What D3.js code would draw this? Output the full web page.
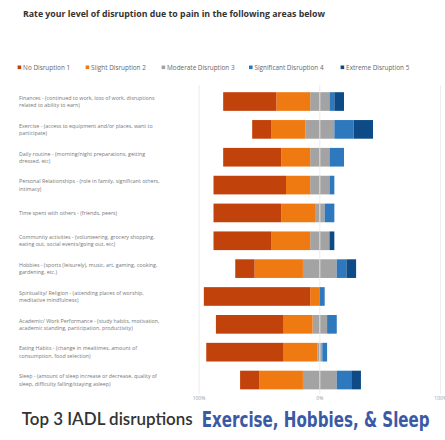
<!DOCTYPE html>
<html>
<head>
<meta charset="utf-8">
<script src="https://cdn.jsdelivr.net/npm/d3@7/dist/d3.min.js"></script>
<style>
html, body { margin: 0; padding: 0; background: #fff; }
svg { display: block; }
</style>
</head>
<body>
<script>
// ---- DATA ----
const categories = ["Finances","Exercise","Daily routine","Personal Relationships","Time spent with others",
  "Community activities","Hobbies","Spirituality/ Religion","Academic/ Work Performance","Eating Habits","Sleep"];
const labelLines = [
  ["Finances - (continued to work, loss of work, disruptions", "related to ability to earn)"],
  ["Exercise - (access to equipment and/or places, want to", "participate)"],
  ["Daily routine - (morning/night preparations, getting", "dressed, etc)"],
  ["Personal Relationships - (role in family, significant others,", "intimacy)"],
  ["Time spent with others - (friends, peers)"],
  ["Community activities - (volunteering, grocery shopping,", "eating out, social events/going out, etc)"],
  ["Hobbies - (sports (leisurely), music, art, gaming, cooking,", "gardening, etc.)"],
  ["Spirituality/ Religion - (attending places of worship,", "meditative mindfulness)"],
  ["Academic/ Work Performance - (study habits, motivation,", "academic standing, participation, productivity)"],
  ["Eating Habits - (change in mealtimes, amount of", "consumption, food selection)"],
  ["Sleep - (amount of sleep increase or decrease, quality of", "sleep, difficulty falling/staying asleep)"]
];
const seriesNames = ["No Disruption 1","Slight Disruption 2","Moderate Disruption 3","Significant Disruption 4","Extreme Disruption 5"];
const noDisruption = [44,16,48,60,56,48,16,88,56,64,16];
const slightDisruption = [28,28,24,20,28,32,40,8,24,28,36];
const moderateDisruption = [16,24,16,16,8,16,28,0,12,4,28];
const significantDisruption = [4,16,12,4,8,0,8,4,8,4,12];
const extremeDisruption = [8,16,0,0,0,4,8,0,0,0,8];
const tickValues = [-100, 0, 100];
const tickLabels = ["100%", "0%", "100%"];
const colors = ["#c2420c", "#f07a12", "#a3a3a3", "#2e78bd", "#0e4b86"];

// ---- CHART ----
const W = 445, H = 440;
const svg = d3.select("body").append("svg").attr("width", W).attr("height", H);

const x = d3.scaleLinear().domain([-100, 100]).range([199, 440.7]);
const y = d3.scaleBand().domain(categories).range([87.6, 393.95]).paddingInner(0.33).paddingOuter(0.165);

// title
svg.append("text").attr("x", 23).attr("y", 16.5)
  .attr("font-family", "Open Sans").attr("font-weight", "bold").attr("font-size", 8.6)
  .attr("fill", "#333").attr("textLength", 302).attr("lengthAdjust", "spacingAndGlyphs")
  .text("Rate your level of disruption due to pain in the following areas below");

// legend
const legendX = [19.3, 87.3, 163.3, 250.7, 342.3];
const lg = svg.append("g");
seriesNames.forEach((n, i) => {
  lg.append("rect").attr("x", legendX[i] - 1.7).attr("y", 65.5).attr("width", 3.6).attr("height", 3.6).attr("fill", colors[i]);
  lg.append("text").attr("x", legendX[i] + 3.8).attr("y", 69.6)
    .attr("font-family", "Open Sans").attr("font-size", 6.4).attr("fill", "#666").text(n);
});

// gridlines
svg.append("g").selectAll("line").data(tickValues).join("line")
  .attr("x1", d => x(d)).attr("x2", d => x(d))
  .attr("y1", 85).attr("y2", 394)
  .attr("stroke", "#ececec").attr("stroke-width", 1);

// build segments
const segs = [];
categories.forEach((c, i) => {
  const mod = moderateDisruption[i];
  let right = -mod / 2;
  segs.push({c, k: 2, x0: right, x1: 0});
  segs.push({c, k: 1, x0: right - slightDisruption[i], x1: right});
  right -= slightDisruption[i];
  segs.push({c, k: 0, x0: right - noDisruption[i], x1: right});
  let left = mod / 2;
  segs.push({c, k: 2, x0: 0, x1: left});
  segs.push({c, k: 3, x0: left, x1: left + significantDisruption[i]});
  left += significantDisruption[i];
  segs.push({c, k: 4, x0: left, x1: left + extremeDisruption[i]});
});

svg.append("g").selectAll("rect").data(segs.filter(s => s.x1 > s.x0)).join("rect")
  .attr("x", d => x(d.x0)).attr("width", d => x(d.x1) - x(d.x0))
  .attr("y", d => y(d.c)).attr("height", y.bandwidth())
  .attr("fill", d => colors[d.k]);

// white split in moderate
svg.append("g").selectAll("line").data(categories.filter((c, i) => moderateDisruption[i] > 0)).join("line")
  .attr("x1", x(0)).attr("x2", x(0))
  .attr("y1", d => y(d)).attr("y2", d => y(d) + y.bandwidth())
  .attr("stroke", "#fff").attr("stroke-opacity", 0.8).attr("stroke-width", 0.8);

// category labels
const lab = svg.append("g");
categories.forEach((c, i) => {
  const lines = labelLines[i];
  const cy = y(c) + y.bandwidth() / 2;
  const lh = 7.4;
  const start = cy - (lines.length - 1) * lh / 2 + 2;
  lines.forEach((t, j) => {
    lab.append("text").attr("x", 19).attr("y", start + j * lh)
      .attr("font-family", "Open Sans").attr("font-size", 5.3).attr("fill", "#777").text(t);
  });
});

// axis tick labels
svg.append("g").selectAll("text").data(tickValues).join("text")
  .attr("x", d => x(d)).attr("y", 400).attr("text-anchor", "middle")
  .attr("font-family", "Open Sans").attr("font-size", 5).attr("fill", "#999")
  .text((d, i) => tickLabels[i]);

// bottom caption
svg.append("text").attr("x", 21.7).attr("y", 425)
  .attr("font-family", "Lato").attr("font-weight", 600).attr("font-size", 17.5)
  .attr("fill", "#333").attr("textLength", 171).attr("lengthAdjust", "spacingAndGlyphs")
  .text("Top 3 IADL disruptions");
svg.append("text").attr("x", 201.7).attr("y", 427)
  .attr("font-family", "Liberation Sans Narrow, DejaVu Sans Condensed, sans-serif").attr("font-weight", "bold").attr("font-size", 22)
  .attr("fill", "#3b5aa6").attr("textLength", 228).attr("lengthAdjust", "spacingAndGlyphs")
  .text("Exercise, Hobbies, & Sleep");
</script>
</body>
</html>
